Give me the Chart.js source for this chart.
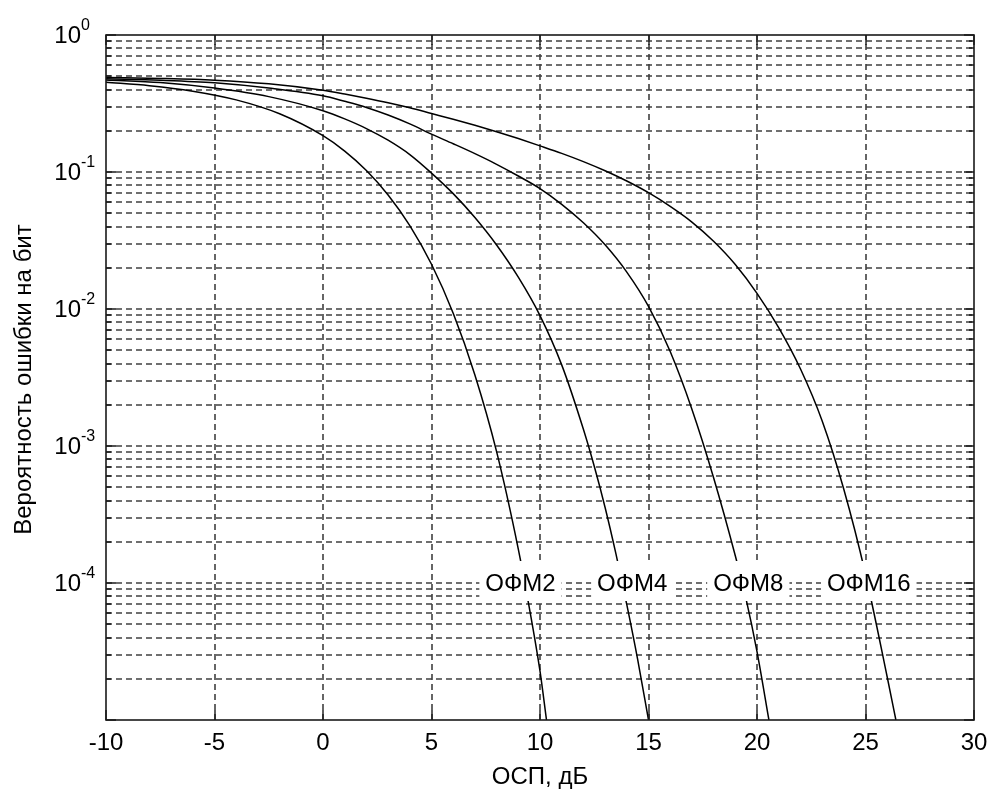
<!DOCTYPE html>
<html>
<head>
<meta charset="utf-8">
<script src="https://cdn.jsdelivr.net/npm/chart.js@4.4.0/dist/chart.umd.min.js"></script>
<style>
  body { margin: 0; background: #fff; }
  canvas { display: block; }
</style>
</head>
<body>
<canvas id="berChart" width="992" height="791"></canvas>
<script>
// SNR axis (dB) and labelled decades of the BER axis
const xTicks = [-10, -5, 0, 5, 10, 15, 20, 25, 30];
const yPowers = [0, -1, -2, -3, -4];

// bit error probability for each modulation
const ofm2Snr = [-10, -8, -6, -4, -2, 0, 1, 2, 3, 4, 5, 6, 7, 8, 9, 9.5, 10, 10.3];
const ofm2Ber = [0.452, 0.427, 0.389, 0.336, 0.266, 0.184, 0.142, 0.1025, 0.068, 0.0406, 0.0212, 0.0093, 0.0033, 9.1e-4, 1.77e-4, 6.7e-5, 2.27e-5, 1.0e-5];

const ofm4Snr = [-10, -7.5, -5, -2.5, 0, 1, 2, 3, 4, 5, 6, 7, 8, 9, 10, 11, 12, 12.5, 13, 13.5, 14, 14.5, 15];
const ofm4Ber = [0.47, 0.45, 0.41, 0.355, 0.28, 0.244, 0.2075, 0.1706, 0.134, 0.0982, 0.0695, 0.0465, 0.0293, 0.01706, 0.00895, 0.00391, 0.001324, 7.11e-4, 3.56e-4, 1.63e-4, 6.95e-5, 2.77e-5, 1.0e-5];

const ofm8Snr = [-10, -7.5, -5, -2.5, 0, 1, 2, 3, 4, 5, 6, 7, 8, 9, 10, 11, 12, 13, 14, 15, 16, 17, 18, 19, 19.5, 20, 20.55];
const ofm8Ber = [0.48, 0.468, 0.448, 0.41, 0.36, 0.328, 0.296, 0.2606, 0.2244, 0.1888, 0.1607, 0.1361, 0.1138, 0.0935, 0.0757, 0.0581, 0.0426, 0.0294, 0.0186, 0.01045, 0.00489, 0.001858, 5.87e-4, 1.58e-4, 7.59e-5, 3.16e-5, 1.0e-5];

const ofm16Snr = [-10, -7.5, -5, -2.5, 0, 1, 2, 3, 4, 5, 6, 7, 8, 9, 10, 11, 12, 13, 14, 15, 16, 17, 18, 19, 20, 21, 22, 23, 24, 25, 26, 26.4];
const ofm16Ber = [0.49, 0.482, 0.468, 0.44, 0.395, 0.3707, 0.3459, 0.3206, 0.2944, 0.2673, 0.2427, 0.2193, 0.1968, 0.1754, 0.1552, 0.1368, 0.1191, 0.1021, 0.0859, 0.0706, 0.0561, 0.0431, 0.0312, 0.0211, 0.013, 0.00731, 0.00366, 0.001528, 4.83e-4, 1.159e-4, 2.06e-5, 1.0e-5];

// curve names written inside the plot, and where
const curveNames = ['ОФМ2', 'ОФМ4', 'ОФМ8', 'ОФМ16'];
const nameSnr = [9.1, 14.25, 19.6, 25.15];
const nameBer = [1e-4, 1e-4, 1e-4, 1e-4];

const FONT = '"Liberation Sans", Arial, sans-serif';

const toPoints = (xs, ys) => xs.map((x, i) => ({ x: x, y: ys[i] }));

// every 1..9 x 10^k line of the log axis
const yGrid = [];
for (let k = -5; k <= 0; k++) {
  for (let m = 1; m <= 9; m++) {
    const v = m * Math.pow(10, k);
    if (v <= 1) yGrid.push(v);
  }
}
const isDecade = v => Math.abs(Math.log10(v) - Math.round(Math.log10(v))) < 1e-9;

const matlabAxes = {
  id: 'matlabAxes',
  beforeDatasetsDraw(chart) {
    const { ctx, chartArea: a, scales: { x, y } } = chart;
    ctx.save();
    ctx.strokeStyle = '#404040';
    ctx.lineWidth = 1.6;
    ctx.setLineDash([6, 4]);
    x.ticks.forEach(t => {
      const px = Math.round(x.getPixelForValue(t.value));
      if (px <= a.left + 1 || px >= a.right - 1) return;
      ctx.beginPath();
      ctx.moveTo(px, a.bottom);
      ctx.lineTo(px, a.top);
      ctx.stroke();
    });
    y.ticks.forEach(t => {
      const py = Math.round(y.getPixelForValue(t.value));
      if (py <= a.top + 1 || py >= a.bottom - 1) return;
      ctx.beginPath();
      ctx.moveTo(a.left, py);
      ctx.lineTo(a.right, py);
      ctx.stroke();
    });
    ctx.restore();
  },
  afterDatasetsDraw(chart) {
    const { ctx, scales: { x, y } } = chart;
    ctx.save();
    ctx.font = '24px ' + FONT;
    ctx.textAlign = 'center';
    ctx.textBaseline = 'middle';
    curveNames.forEach((name, i) => {
      const cx = x.getPixelForValue(nameSnr[i]);
      const cy = y.getPixelForValue(nameBer[i]);
      const w = ctx.measureText(name).width;
      ctx.fillStyle = '#fff';
      ctx.fillRect(cx - w / 2 - 6, cy - 22, w + 12, 40);
      ctx.fillStyle = '#000';
      ctx.fillText(name, cx, cy + 1);
    });
    ctx.restore();
  },
  afterDraw(chart) {
    const { ctx, chartArea: a, scales: { x, y } } = chart;
    ctx.save();
    ctx.strokeStyle = '#1a1a1a';
    ctx.lineWidth = 1.6;
    ctx.setLineDash([]);
    ctx.strokeRect(a.left, a.top, a.right - a.left, a.bottom - a.top);

    // inward tick marks
    ctx.lineWidth = 1.4;
    ctx.beginPath();
    x.ticks.forEach(t => {
      const px = Math.round(x.getPixelForValue(t.value));
      ctx.moveTo(px, a.bottom); ctx.lineTo(px, a.bottom - 10);
      ctx.moveTo(px, a.top); ctx.lineTo(px, a.top + 10);
    });
    y.ticks.forEach(t => {
      const py = Math.round(y.getPixelForValue(t.value));
      const len = isDecade(t.value) ? 10 : 5;
      ctx.moveTo(a.left, py); ctx.lineTo(a.left + len, py);
      ctx.moveTo(a.right, py); ctx.lineTo(a.right - len, py);
    });
    ctx.stroke();

    ctx.fillStyle = '#000';
    ctx.font = '24px ' + FONT;
    ctx.textAlign = 'center';
    ctx.textBaseline = 'middle';
    xTicks.forEach(v => {
      ctx.fillText(String(v), x.getPixelForValue(v), a.bottom + 23);
    });

    yPowers.forEach(p => {
      const py = y.getPixelForValue(Math.pow(10, p));
      ctx.font = '24px ' + FONT;
      ctx.textAlign = 'right';
      ctx.fillText('10', a.left - 25, py + 1);
      ctx.font = '16px ' + FONT;
      ctx.textAlign = 'left';
      ctx.fillText(String(p), a.left - 25, py - 9);
    });

    ctx.font = '24px ' + FONT;
    ctx.textAlign = 'center';
    ctx.fillText('ОСП, дБ', (a.left + a.right) / 2, a.bottom + 57);

    ctx.translate(24, (a.top + a.bottom) / 2 + 2);
    ctx.rotate(-Math.PI / 2);
    ctx.fillText('Вероятность ошибки на бит', 0, 0);
    ctx.restore();
  }
};

const lineStyle = {
  borderColor: '#000',
  borderWidth: 1.5,
  pointRadius: 0,
  fill: false,
  cubicInterpolationMode: 'monotone'
};

new Chart(document.getElementById('berChart'), {
  type: 'line',
  data: {
    datasets: [
      Object.assign({ label: curveNames[0], data: toPoints(ofm2Snr, ofm2Ber) }, lineStyle),
      Object.assign({ label: curveNames[1], data: toPoints(ofm4Snr, ofm4Ber) }, lineStyle),
      Object.assign({ label: curveNames[2], data: toPoints(ofm8Snr, ofm8Ber) }, lineStyle),
      Object.assign({ label: curveNames[3], data: toPoints(ofm16Snr, ofm16Ber) }, lineStyle)
    ]
  },
  options: {
    responsive: false,
    animation: false,
    devicePixelRatio: 1,
    layout: { padding: { left: 106, right: 18, top: 35, bottom: 71 } },
    plugins: {
      legend: { display: false },
      tooltip: { enabled: false }
    },
    scales: {
      x: {
        type: 'linear',
        min: -10,
        max: 30,
        grid: { display: false },
        border: { display: false },
        ticks: { display: false },
        afterBuildTicks: s => { s.ticks = xTicks.map(v => ({ value: v })); },
        afterFit: s => { s.height = 0; }
      },
      y: {
        type: 'logarithmic',
        min: 1e-5,
        max: 1,
        grid: { display: false },
        border: { display: false },
        ticks: { display: false },
        afterBuildTicks: s => { s.ticks = yGrid.map(v => ({ value: v })); },
        afterFit: s => { s.width = 0; }
      }
    }
  },
  plugins: [matlabAxes]
});
</script>
</body>
</html>
